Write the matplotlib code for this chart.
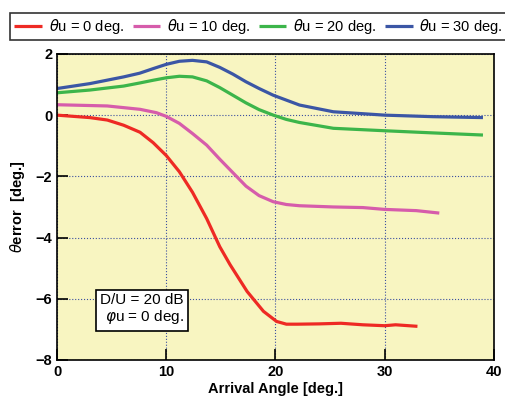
import numpy as np
import matplotlib.pyplot as plt

plt.rcParams['font.family'] = ['Liberation Sans', 'DejaVu Sans']

# theta_u = 0 deg
x_0 = [0, 3.0, 4.6, 6.1, 7.6, 8.8, 10.0, 11.2, 12.4, 13.7, 14.9, 15.85, 17.4, 18.9, 20.1, 21.0, 22, 24, 26, 28, 30, 31, 33]
y_0 = [0, -0.08, -0.16, -0.33, -0.56, -0.9, -1.32, -1.85, -2.52, -3.38, -4.3, -4.89, -5.76, -6.41, -6.74, -6.83, -6.83, -6.82, -6.8, -6.85, -6.88, -6.85, -6.9]
# theta_u = 10 deg
x_10 = [0, 4.6, 7.6, 9.1, 10.0, 11.2, 12.4, 13.7, 14.9, 16.1, 17.3, 18.5, 19.8, 21.0, 22.2, 25.3, 28, 30, 32.9, 35]
y_10 = [0.34, 0.3, 0.19, 0.08, -0.04, -0.27, -0.6, -0.98, -1.44, -1.88, -2.32, -2.63, -2.83, -2.92, -2.96, -3.0, -3.02, -3.08, -3.12, -3.2]
# theta_u = 20 deg
x_20 = [0, 3.0, 6.1, 7.56, 8.8, 10.0, 11.2, 12.4, 13.7, 14.9, 16.1, 17.3, 18.5, 19.8, 21.0, 22.2, 25.3, 30, 34.4, 39]
y_20 = [0.73, 0.82, 0.95, 1.05, 1.14, 1.22, 1.27, 1.25, 1.12, 0.9, 0.65, 0.4, 0.18, 0.0, -0.14, -0.24, -0.43, -0.51, -0.58, -0.65]
# theta_u = 30 deg
x_30 = [0, 3.0, 6.1, 7.56, 8.8, 10.0, 11.2, 12.4, 13.7, 14.9, 16.1, 17.3, 18.5, 19.8, 21.0, 22.2, 25.3, 30, 34.4, 39]
y_30 = [0.87, 1.03, 1.25, 1.37, 1.52, 1.66, 1.76, 1.79, 1.74, 1.56, 1.34, 1.09, 0.87, 0.65, 0.49, 0.33, 0.11, 0.0, -0.05, -0.08]

series = [
    (x_0, y_0, '#EE2A24', r'$\theta$u = 0 deg.'),
    (x_10, y_10, '#D65CAB', r'$\theta$u = 10 deg.'),
    (x_20, y_20, '#3CB54A', r'$\theta$u = 20 deg.'),
    (x_30, y_30, '#3B56A5', r'$\theta$u = 30 deg.'),
]

fig = plt.figure(figsize=(5.05, 3.98), dpi=100)
ax = fig.add_axes([0.113, 0.0955, 0.865, 0.769])
ax.set_facecolor('#F8F5C1')

for xs, ys, c, lab in series:
    ax.plot(xs, ys, color=c, lw=2.3, label=lab, solid_capstyle='butt', solid_joinstyle='round')

ax.set_xlim(0, 40)
ax.set_ylim(-8, 2)
ax.set_xticks([0, 10, 20, 30, 40])
ax.set_yticks([-8, -6, -4, -2, 0, 2])
ax.grid(True, color='#3B4FA0', linestyle=':', lw=0.8)
ax.tick_params(direction='in', length=8, width=1.2, labelsize=10.5)
for lbl in ax.get_xticklabels() + ax.get_yticklabels():
    lbl.set_fontweight('bold')
for s in ax.spines.values():
    s.set_linewidth(1.2)

ax.set_xlabel('Arrival Angle [deg.]', fontsize=10.5, fontweight='bold', labelpad=2)
ax.set_ylabel(r'$\theta$error  [deg.]', fontsize=10.5, fontweight='bold', labelpad=6)

ax.text(0.29, 0.165, 'D/U = 20 dB\n' + r'$\varphi$u = 0 deg.', transform=ax.transAxes,
        fontsize=11, ha='right', va='center', multialignment='right', linespacing=1.1,
        bbox=dict(boxstyle='square,pad=0.3', fc='white', ec='black', lw=1.2))

leg = fig.legend(loc='upper left', bbox_to_anchor=(0.02, 0.968), ncol=4, fontsize=10.5,
                 frameon=True, fancybox=False, edgecolor='black', handlelength=1.9,
                 handletextpad=0.45, columnspacing=0.6, borderpad=0.3, borderaxespad=0)
leg.get_frame().set_linewidth(1.2)

fig.savefig('out.png', dpi=100)
